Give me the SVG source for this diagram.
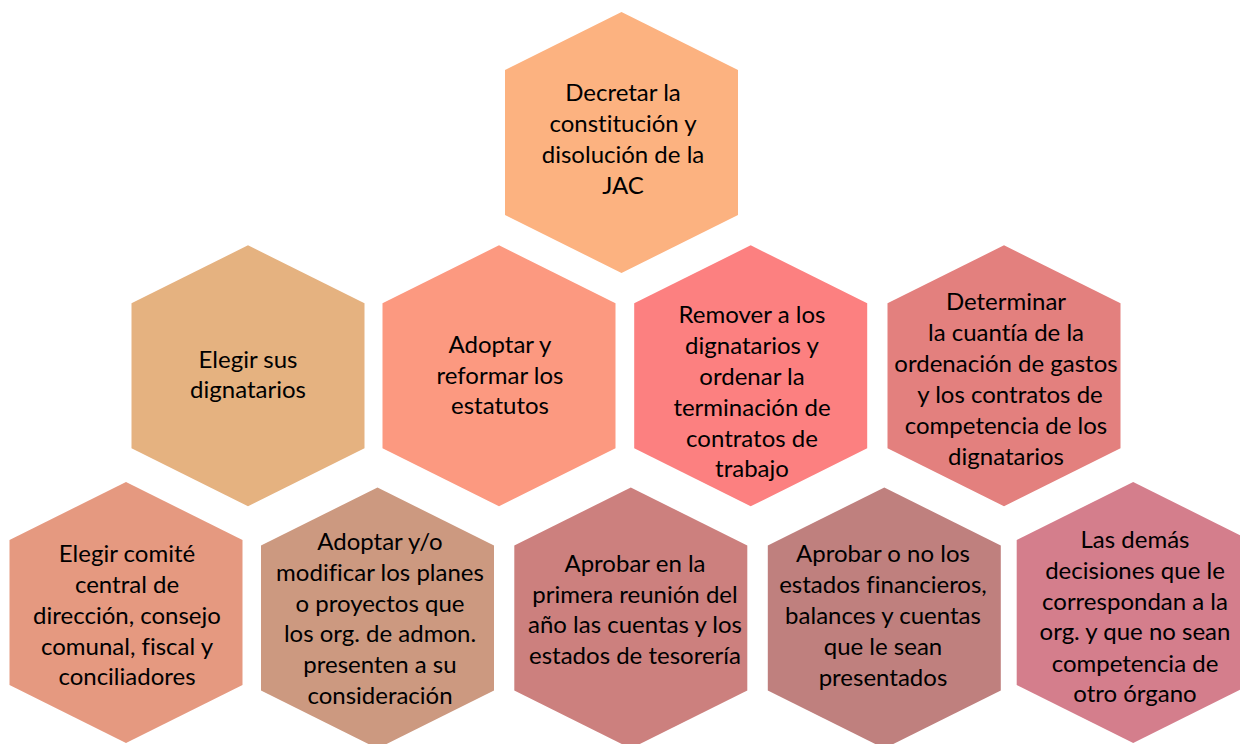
<svg xmlns="http://www.w3.org/2000/svg" xmlns:xlink="http://www.w3.org/1999/xlink" width="1240" height="744" viewBox="0 0 1240 744">
<style>
text{font-family:Lato,"Open Sans","Noto Sans",sans-serif;font-size:24px;fill:#000;text-anchor:middle;font-variant-ligatures:none;font-feature-settings:"liga" 0,"dlig" 0}
.c0{fill:#FCB280}.c1{fill:#E5B280}.c2{fill:#FC9980}.c3{fill:#FC8080}.c4{fill:#E3807E}
.c5{fill:#E59980}.c6{fill:#CC9980}.c7{fill:#CC807E}.c8{fill:#BF807E}.c9{fill:#D47E8C}
</style>
<defs>
<polygon id="hex" points="0,-130.5 116.5,-72.5 116.5,72.5 0,130.5 -116.5,72.5 -116.5,-72.5"/>
</defs>
<rect width="1240" height="744" fill="#fff"/>
<g id="n0"><use xlink:href="#hex" class="c0" transform="translate(621.5,142.5)"/>
<text x="623" y="101">Decretar la</text><text x="623" y="132">constitución y</text><text x="623" y="163">disolución de la</text><text x="623" y="194">JAC</text></g>
<g id="n1"><use xlink:href="#hex" class="c1" transform="translate(248,375.8)"/>
<text x="248" y="368">Elegir sus</text><text x="248" y="398">dignatarios</text></g>
<g id="n2"><use xlink:href="#hex" class="c2" transform="translate(499,375.8)"/>
<text x="500" y="353">Adoptar y</text><text x="500" y="383.5">reformar los</text><text x="500" y="414">estatutos</text></g>
<g id="n3"><use xlink:href="#hex" class="c3" transform="translate(750.7,375.8)"/>
<text x="752" y="323">Remover a los</text><text x="752" y="354">dignatarios y</text><text x="752" y="385">ordenar la</text><text x="752" y="415.5">terminación de</text><text x="752" y="446.5">contratos de</text><text x="752" y="477">trabajo</text></g>
<g id="n4"><use xlink:href="#hex" class="c4" transform="translate(1004,375.8)"/>
<text x="1006" y="310">Determinar</text><text x="1006" y="341">la cuantía de la</text><text x="1006" y="371.5">ordenación de gastos</text><text x="1010" y="403">y los contratos de</text><text x="1006" y="434">competencia de los</text><text x="1006" y="465">dignatarios</text></g>
<g id="n5"><use xlink:href="#hex" class="c5" transform="translate(126,612.5)"/>
<text x="127" y="561.5">Elegir comité</text><text x="127" y="593">central de</text><text x="127" y="623.5">dirección, consejo</text><text x="127" y="655">comunal, fiscal y</text><text x="127" y="685">conciliadores</text></g>
<g id="n6"><use xlink:href="#hex" class="c6" transform="translate(377.5,618)"/>
<text x="380" y="550">Adoptar y/o</text><text x="380" y="581">modificar los planes</text><text x="380" y="611.5">o proyectos que</text><text x="380" y="642">los org. de admon.</text><text x="380" y="673">presenten a su</text><text x="380" y="704">consideración</text></g>
<g id="n7"><use xlink:href="#hex" class="c7" transform="translate(630.8,618)"/>
<text x="635" y="571.5">Aprobar en la</text><text x="635" y="602.5">primera reunión del</text><text x="635" y="633">año las cuentas y los</text><text x="635" y="663.5">estados de tesorería</text></g>
<g id="n8"><use xlink:href="#hex" class="c8" transform="translate(884.3,618)"/>
<text x="883" y="562">Aprobar o no los</text><text x="883" y="593">estados financieros,</text><text x="883" y="624">balances y cuentas</text><text x="883" y="655">que le sean</text><text x="883" y="685.5">presentados</text></g>
<g id="n9"><use xlink:href="#hex" class="c9" transform="translate(1133.2,612.5)"/>
<text x="1135" y="548">Las demás</text><text x="1135" y="579">decisiones que le</text><text x="1135" y="610">correspondan a la</text><text x="1135" y="640">org. y que no sean</text><text x="1135" y="671.5">competencia de</text><text x="1135" y="701.5">otro órgano</text></g>
</svg>
